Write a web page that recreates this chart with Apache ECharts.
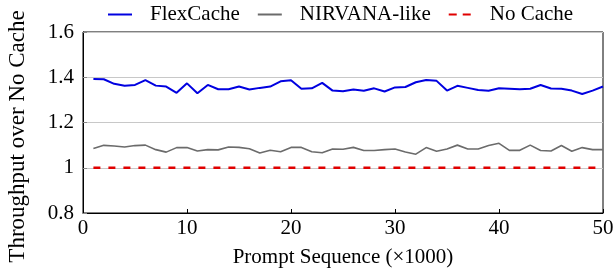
<!DOCTYPE html>
<html>
<head>
<meta charset="utf-8">
<script src="https://cdn.jsdelivr.net/npm/echarts@6/dist/echarts.min.js"></script>
<style>
  html, body { margin: 0; padding: 0; background: #fff; }
  #main { width: 615px; height: 275px; }
</style>
</head>
<body>
<div id="main"></div>
<script>
// prompt sequence index (x1000)
const seq = [];
for (let i = 1; i <= 50; i++) seq.push(i);

const flexCache = [
  1.392, 1.391, 1.371, 1.362, 1.366, 1.387, 1.363, 1.359, 1.331, 1.373,
  1.329, 1.366, 1.347, 1.347, 1.359, 1.346, 1.353, 1.359, 1.382, 1.387,
  1.349, 1.351, 1.375, 1.341, 1.338, 1.346, 1.340, 1.351, 1.337, 1.355,
  1.357, 1.378, 1.388, 1.384, 1.341, 1.362, 1.353, 1.344, 1.340, 1.351,
  1.349, 1.347, 1.349, 1.366, 1.350, 1.349, 1.341, 1.326, 1.341, 1.359
];
const nirvana = [
  1.085, 1.099, 1.096, 1.092, 1.098, 1.100, 1.080, 1.069, 1.089, 1.089,
  1.074, 1.080, 1.079, 1.092, 1.090, 1.084, 1.065, 1.077, 1.071, 1.090,
  1.090, 1.071, 1.066, 1.083, 1.082, 1.090, 1.076, 1.076, 1.080, 1.083,
  1.070, 1.060, 1.089, 1.073, 1.083, 1.100, 1.083, 1.083, 1.098, 1.108,
  1.077, 1.077, 1.100, 1.076, 1.074, 1.098, 1.073, 1.089, 1.080, 1.080
];
const noCache = seq.map(() => 1);

const font = 'Liberation Serif';
const pair = arr => seq.map((x, i) => [x, arr[i]]);
// flat legend icons: solid bar and two dashes
const solidIcon = 'path://M0,0H24V2H0Z';
const dashIcon = 'path://M0,0H8V2H0ZM14,0H22V2H14Z';

const chart = echarts.init(document.getElementById('main'), null, { renderer: 'canvas' });
chart.setOption({
  animation: false,
  textStyle: { fontFamily: font },
  legend: {
    top: -1,
    left: 103,
    itemWidth: 24,
    itemHeight: 2,
    itemGap: 18,
    textStyle: { fontFamily: font, fontSize: 21, color: '#000', padding: [0, 0, 0, 13] },
    data: [
      { name: 'FlexCache', icon: solidIcon },
      { name: 'NIRVANA-like', icon: solidIcon },
      { name: 'No Cache', icon: dashIcon }
    ]
  },
  grid: {
    left: 83, right: 12, top: 32, bottom: 62,
    outerBoundsMode: 'none',
    containLabel: false,
    show: true, borderColor: '#000', borderWidth: 1, backgroundColor: 'transparent'
  },
  xAxis: {
    type: 'value',
    min: 0, max: 50, interval: 10,
    name: 'Prompt Sequence (×1000)',
    nameLocation: 'middle',
    nameGap: 34,
    nameTextStyle: { fontFamily: font, fontSize: 21, color: '#000' },
    axisLine: { lineStyle: { color: '#000', width: 1 } },
    axisTick: { inside: true, length: 4, lineStyle: { color: '#000' } },
    axisLabel: { fontFamily: font, fontSize: 21, color: '#000', margin: 5 },
    splitLine: { show: false }
  },
  yAxis: {
    type: 'value',
    min: 0.8, max: 1.6, interval: 0.2,
    name: 'Throughput over No Cache',
    nameLocation: 'middle',
    nameGap: 54,
    nameTextStyle: { fontFamily: font, fontSize: 23, color: '#000', padding: [0, 28, 0, 0] },
    axisLine: { show: true, lineStyle: { color: '#000', width: 1 } },
    axisTick: { inside: true, length: 4, lineStyle: { color: '#888' } },
    axisLabel: { fontFamily: font, fontSize: 21, color: '#000', margin: 9 },
    splitLine: { show: true, lineStyle: { color: '#c8c8c8', width: 1 } }
  },
  series: [
    {
      name: 'FlexCache', type: 'line', symbol: 'none',
      data: pair(flexCache),
      lineStyle: { color: '#0000e0', width: 2 },
      itemStyle: { color: '#0000e0' }
    },
    {
      name: 'NIRVANA-like', type: 'line', symbol: 'none',
      data: pair(nirvana),
      lineStyle: { color: '#6b6b6b', width: 1.6 },
      itemStyle: { color: '#6b6b6b' }
    },
    {
      name: 'No Cache', type: 'line', symbol: 'none',
      data: pair(noCache),
      lineStyle: { color: '#e00000', width: 2.5, type: [7, 8] },
      itemStyle: { color: '#e00000' }
    }
  ]
});
</script>
</body>
</html>
